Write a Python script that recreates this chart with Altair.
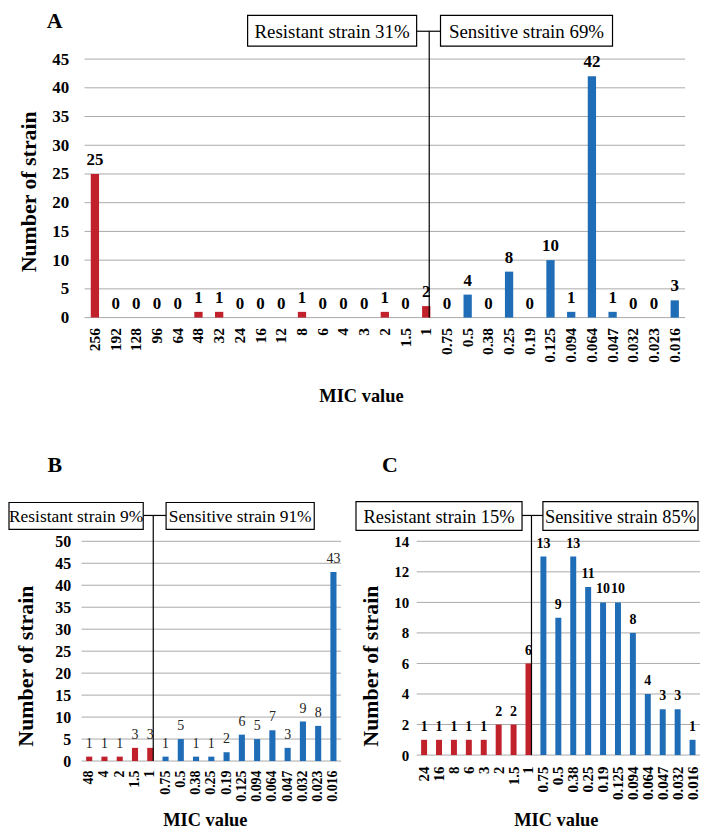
import altair as alt
import pandas as pd

# ---------------- data ----------------
a_mic = ["256", "192", "128", "96", "64", "48", "32", "24", "16", "12", "8", "6", "4", "3",
         "2", "1.5", "1", "0.75", "0.5", "0.38", "0.25", "0.19", "0.125", "0.094", "0.064",
         "0.047", "0.032", "0.023", "0.016"]
a_count = [25, 0, 0, 0, 0, 1, 1, 0, 0, 0, 1, 0, 0, 0, 1, 0, 2,
           0, 4, 0, 8, 0, 10, 1, 42, 1, 0, 0, 3]
a_resistant = 17
a_ticks = [0, 5, 10, 15, 20, 25, 30, 35, 40, 45]

b_mic = ["48", "4", "2", "1.5", "1", "0.75", "0.5", "0.38", "0.25", "0.19", "0.125",
         "0.094", "0.064", "0.047", "0.032", "0.023", "0.016"]
b_count = [1, 1, 1, 3, 3, 1, 5, 1, 1, 2, 6, 5, 7, 3, 9, 8, 43]
b_resistant = 5
b_ticks = [0, 5, 10, 15, 20, 25, 30, 35, 40, 45, 50]

c_mic = ["24", "16", "8", "6", "3", "2", "1.5", "1", "0.75", "0.5", "0.38", "0.25", "0.19",
         "0.125", "0.094", "0.064", "0.047", "0.032", "0.016"]
c_count = [1, 1, 1, 1, 1, 2, 2, 6, 13, 9, 13, 11, 10, 10, 8, 4, 3, 3, 1]
c_resistant = 8
c_ticks = [0, 2, 4, 6, 8, 10, 12, 14]

a_boxes = ["Resistant strain 31%", "Sensitive strain 69%"]
b_boxes = ["Resistant strain 9%", "Sensitive strain 91%"]
c_boxes = ["Resistant strain 15%", "Sensitive strain 85%"]
letters = ["A", "B", "C"]
x_title = "MIC value"
y_title = "Number of strain"
groups = ["Resistant", "Sensitive"]

# ---------------- style ----------------
SERIF = "Liberation Serif"
RED = "#C0212B"
BLUE = "#1F6DB6"
GRID = "#A9A9A9"

# view origin on the page (px); everything below is laid out in page px
OX, OY = 81, 57
W, H = 622, 706


def px(x):
    return x - OX


def py(y):
    return y - OY


def one(label):
    return pd.DataFrame({"t": [label]})


def panel(mics, counts, n_res, yticks, plot_x, plot_y, ymax, sizes, ypad, xpad,
          xtitle_xy, ytitle_xy, label_style, boxes, box_geo, font_box, conn_y, letter, letter_xy):
    x0, x1 = plot_x
    ytop, ybot = plot_y
    df = pd.DataFrame({
        "MIC": mics,
        "count": counts,
        "group": [groups[0]] * n_res + [groups[1]] * (len(mics) - n_res),
    })
    xscale = alt.Scale(domain=mics, range=[px(x0), px(x1)], paddingInner=0.6, paddingOuter=0.3)
    yscale = alt.Scale(domain=[0, ymax], range=[py(ybot), py(ytop)], nice=False, zero=True)
    xaxis = alt.Axis(
        orient="bottom", offset=-(H - py(ybot)), labelAngle=-90, labelFont=SERIF,
        labelFontWeight="bold", labelFontSize=sizes[0], labelColor="black", labelPadding=xpad,
        labelOverlap=False, ticks=False, domain=False, grid=False,
        title=x_title, titleFont=SERIF, titleFontSize=18.5, titleFontWeight="bold",
        titleColor="black", titleX=xtitle_xy[0] - OX, titleY=xtitle_xy[1] - ybot,
        titleAlign="center", titleBaseline="middle")
    yaxis = alt.Axis(
        orient="left", offset=-px(x0), values=yticks, labelFont=SERIF, labelFontWeight="bold",
        labelFontSize=sizes[1], labelColor="black", labelPadding=ypad, labelOverlap=False,
        ticks=False, domain=False, grid=False,
        title=y_title, titleFont=SERIF, titleFontSize=22, titleFontWeight="bold",
        titleColor="black", titleX=ytitle_xy[0] - x0, titleY=py(ytitle_xy[1]),
        titleAngle=270, titleAlign="center", titleBaseline="middle")
    xenc = alt.X("MIC:N", scale=xscale, sort=None, axis=xaxis)
    yenc = alt.Y("count:Q", scale=yscale, axis=yaxis)

    grid_df = pd.DataFrame({"count": yticks, "gx0": [px(x0)] * len(yticks),
                            "gx1": [px(x1)] * len(yticks)})
    gridlines = alt.Chart(grid_df).mark_rule(color=GRID, strokeWidth=1).encode(
        y=yenc, x=alt.X("gx0:Q", scale=None), x2="gx1:Q")

    bars = alt.Chart(df).mark_bar().encode(
        x=xenc, y=yenc,
        color=alt.Color("group:N", scale=alt.Scale(domain=groups, range=[RED, BLUE]), legend=None),
    )
    labels = alt.Chart(df).mark_text(
        baseline="alphabetic", dy=-9, font=SERIF, fontSize=label_style[0],
        fontWeight=label_style[1], color=label_style[2]
    ).encode(x=xenc, y=yenc, text="count:Q")

    divider = alt.Chart(pd.DataFrame({"MIC": ["1"]})).mark_rule(
        color="black", strokeWidth=1.2, xOffset=3
    ).encode(x=xenc, y=alt.value(py(conn_y)), y2=alt.value(py(ybot)))

    (rx0, rx1), (sx0, sx1), (by0, by1) = box_geo
    layers = [gridlines, bars, labels, divider]
    layers.append(alt.Chart(one("c")).mark_rule(color="black", strokeWidth=1.2).encode(
        x=alt.value(px(rx1)), x2=alt.value(px(sx0)), y=alt.value(py(conn_y))))
    for (bx0, bx1), txt in zip([(rx0, rx1), (sx0, sx1)], boxes):
        layers.append(alt.Chart(one(txt)).mark_rect(
            fill="white", stroke="black", strokeWidth=1.2).encode(
            x=alt.value(px(bx0)), x2=alt.value(px(bx1)),
            y=alt.value(py(by0)), y2=alt.value(py(by1))))
        layers.append(alt.Chart(one(txt)).mark_text(
            font=SERIF, fontSize=font_box, color="black", baseline="middle", align="center", dy=1
        ).encode(x=alt.value(px((bx0 + bx1) / 2)), y=alt.value(py((by0 + by1) / 2)), text="t:N"))
    layers.append(alt.Chart(one(letter)).mark_text(
        font=SERIF, fontSize=22, fontWeight="bold", color="black", baseline="alphabetic",
        align="center"
    ).encode(x=alt.value(px(letter_xy[0])), y=alt.value(py(letter_xy[1])), text="t:N"))

    return alt.layer(*layers)


pa = panel(a_mic, a_count, a_resistant, a_ticks, (84, 688), (57, 317), 45,
           (15.5, 17), 16, 10, (362, 395), (28, 190),
           (17, "bold", "black"), a_boxes, ((248, 418), (442, 615), (13, 44)), 19, 29,
           letters[0], (54, 26))
pb = panel(b_mic, b_count, b_resistant, b_ticks, (81, 342), (542, 763), 50,
           (14, 16), 11, 9, (205, 822), (25, 667),
           (14, "normal", "#222222"), b_boxes, ((8, 143), (166, 315), (503, 530)), 17.5, 516,
           letters[1], (54, 472))
pc = panel(c_mic, c_count, c_resistant, c_ticks, (418, 703), (542, 757), 14,
           (15, 15), 8, 11, (558, 822), (372, 667),
           (14, "bold", "black"), c_boxes, ((357, 524), (545, 701), (502, 531)), 18.5, 516,
           letters[2], (391, 472))

chart = alt.layer(pa, pb, pc).resolve_scale(
    x="independent", y="independent"
).properties(width=W, height=H, padding=0).configure_view(strokeWidth=0)

chart.save("out.html", embed_options={"renderer": "svg", "actions": False})
